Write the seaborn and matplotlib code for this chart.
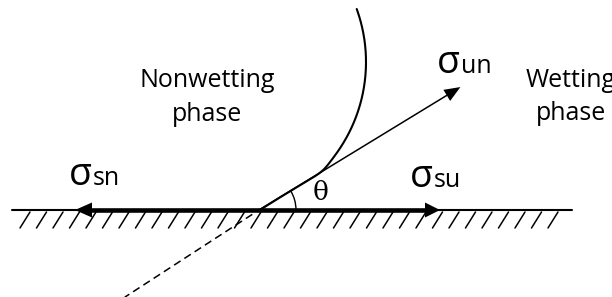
import numpy as np
import pandas as pd
import matplotlib
matplotlib.use("Agg")
import matplotlib.pyplot as plt
import seaborn as sns
from matplotlib.patches import Polygon, Arc

# ---------------- data (pixel units, y grows downward) ----------------
SURFACE_X = [12, 572]          # solid surface extent
SURFACE_Y = 210
CONTACT_X = 259                # three-phase contact point
SN_TIP_X = 75                  # sigma_sn arrow tip
SU_TIP_X = 440                 # sigma_su arrow tip
THETA_DEG = 31.4               # contact angle of sigma_un
UN_LENGTH = 236                # length of sigma_un arrow
DASH_DEG = 33.0
DASH_RANGE = [8, 160]          # dashed extension (distance from contact)
HATCH_FIRST = 20
HATCH_LAST = 548
HATCH_COUNT = 33
CURVE_CENTER = [210, 62]       # interface: circular arc ...
CURVE_RADIUS = 156
CURVE_TOP_Y = 9                # ... from the surface up to this height
ARC_RADIUS = 37

PHASE_LABELS = [("Nonwetting", 207, 87), ("phase", 207, 121),
                ("Wetting", 571, 87), ("phase", 571, 120)]
SIGMA_LABELS = [("sn", 92, 185), ("su", 433, 187), ("un", 460, 73)]
THETA_LABEL = ("θ", 321, 193)

# ---------------- figure ----------------
sns.set_theme(style="white")
plt.rcParams["font.family"] = ["Open Sans", "DejaVu Sans"]

fig = plt.figure(figsize=(6.12, 2.97), dpi=100)
ax = fig.add_axes([0, 0, 1, 1])

K = "black"
C = np.array([CONTACT_X, SURFACE_Y], float)
t = np.deg2rad(THETA_DEG)
u = np.array([np.cos(t), -np.sin(t)])

# surface line
surf = pd.DataFrame({"x": SURFACE_X, "y": [SURFACE_Y, SURFACE_Y]})
sns.lineplot(data=surf, x="x", y="y", ax=ax, color=K, lw=1.5,
             sort=False, estimator=None)

# hatches
hx = np.linspace(HATCH_FIRST, HATCH_LAST, HATCH_COUNT)
rows = []
for i, x0 in enumerate(hx):
    rows.append((i, x0, SURFACE_Y + 18))
    rows.append((i, x0 + 10, SURFACE_Y + 2))
hatch = pd.DataFrame(rows, columns=["id", "x", "y"])
sns.lineplot(data=hatch, x="x", y="y", units="id", estimator=None,
             ax=ax, color=K, lw=1.1, sort=False)


def head(tip, d, length, width):
    d = np.asarray(d, float)
    n = np.array([-d[1], d[0]])
    tip = np.asarray(tip, float)
    base = tip - length * d
    pts = [tip, base + n * width / 2, base - n * width / 2]
    ax.add_patch(Polygon(pts, closed=True, color=K, lw=0))
    return base


# sigma_sn and sigma_su thick arrows
b1 = head((SN_TIP_X, SURFACE_Y), (-1, 0), 17, 15)
b2 = head((SU_TIP_X, SURFACE_Y), (1, 0), 15, 15)
thick = pd.DataFrame({"x": [b1[0], b2[0]], "y": [SURFACE_Y, SURFACE_Y]})
sns.lineplot(data=thick, x="x", y="y", ax=ax, color=K, lw=3.3,
             sort=False, estimator=None)

# sigma_un arrow
tip = C + UN_LENGTH * u
b3 = head(tip, u, 16, 13)
un = pd.DataFrame({"x": [C[0], b3[0]], "y": [C[1], b3[1]]})
sns.lineplot(data=un, x="x", y="y", ax=ax, color=K, lw=1.1,
             sort=False, estimator=None)

# dashed extension
td = np.deg2rad(DASH_DEG)
ud = np.array([-np.cos(td), np.sin(td)])
d0 = C + DASH_RANGE[0] * ud
d1 = C + DASH_RANGE[1] * ud
dash = pd.DataFrame({"x": [d0[0], d1[0]], "y": [d0[1], d1[1]]})
sns.lineplot(data=dash, x="x", y="y", ax=ax, color=K, lw=1.1,
             sort=False, estimator=None, linestyle=(0, (5, 3)))

# interface curve: circle, smoothly joined to the sigma_un line near contact
cx, cy = CURVE_CENTER
yy = np.linspace(SURFACE_Y, CURVE_TOP_Y, 400)
x_circle = cx + np.sqrt(np.clip(CURVE_RADIUS ** 2 - (yy - cy) ** 2, 0, None))
x_line = CONTACT_X + (SURFACE_Y - yy) / np.tan(t)
w = 1.0 / (1.0 + np.exp(-(x_circle - x_line) / 2.5))
xx = w * x_line + (1 - w) * x_circle
curve = pd.DataFrame({"x": xx, "y": yy})
sns.lineplot(data=curve, x="x", y="y", ax=ax, color=K, lw=1.5,
             sort=False, estimator=None)

# angle arc
ax.add_patch(Arc(tuple(C), 2 * ARC_RADIUS, 2 * ARC_RADIUS,
                 theta1=-THETA_DEG, theta2=0, color=K, lw=1.0))

ax.set_xlim(0, 612)
ax.set_ylim(297, 0)
ax.axis("off")

# texts
for txt, x, y in PHASE_LABELS:
    ax.text(x, y, txt, ha="center", va="baseline", fontsize=18, color=K)

for sub, x, y in SIGMA_LABELS:
    ax.text(x, y, "σ", ha="right", va="baseline", fontsize=27, color=K)
    ax.text(x + 1, y, sub, ha="left", va="baseline", fontsize=18, color=K)

ax.text(THETA_LABEL[1], THETA_LABEL[2], THETA_LABEL[0], ha="center",
        va="center", fontsize=19, color=K, family=["DejaVu Serif"])

fig.savefig("out.png", dpi=100, facecolor="white")
